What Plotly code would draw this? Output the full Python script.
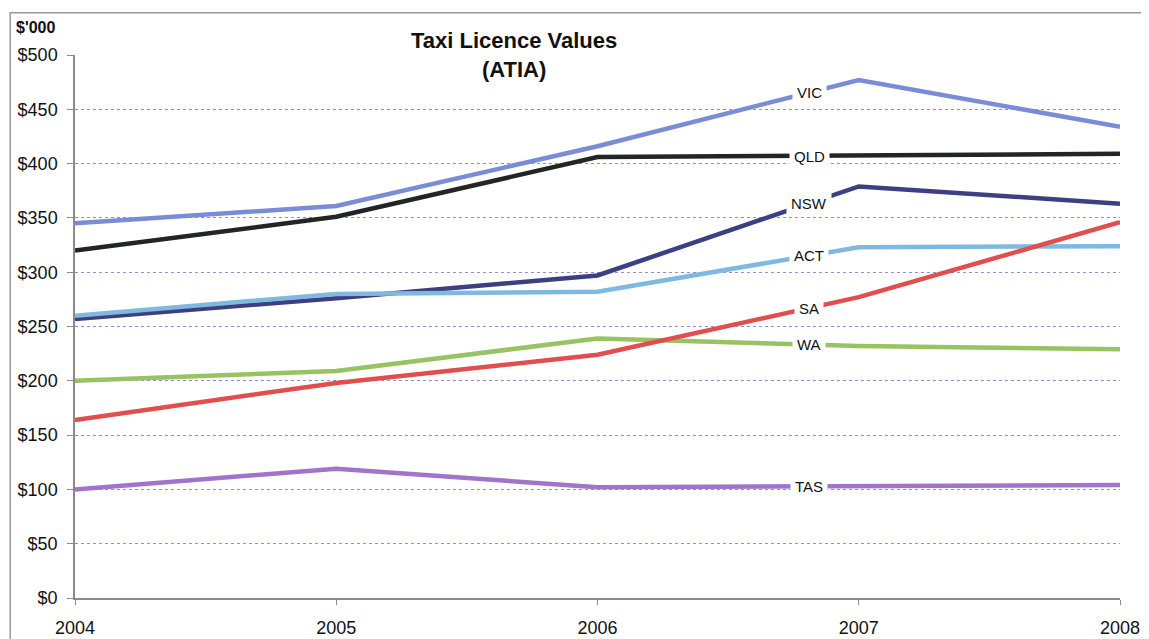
import plotly.graph_objects as go

# Taxi licence values by state ($'000)
years = [2004, 2005, 2006, 2007, 2008]
vic = [345, 361, 416, 477, 434]
qld = [320, 351, 406, 407, 409]
nsw = [257, 276, 297, 379, 363]
act = [260, 280, 282, 323, 324]
wa = [200, 209, 239, 232, 229]
sa = [164, 198, 224, 277, 346]
tas = [100, 119, 102, 103, 104]

series = [
    ("VIC", vic, "#7b8cd6"),
    ("QLD", qld, "#222426"),
    ("NSW", nsw, "#3e3f82"),
    ("ACT", act, "#80b9e0"),
    ("WA", wa, "#99c263"),
    ("SA", sa, "#e04e4e"),
    ("TAS", tas, "#a173c9"),
]

FONT = "Liberation Sans, Arial, sans-serif"
label_pos = 0.81  # labels sit between 2006 and 2007

fig = go.Figure()
for name, vals, col in series:
    fig.add_trace(go.Scatter(x=years, y=vals, mode="lines", name=name,
                             line=dict(color=col, width=4.5), showlegend=False))

# inline labels on each line (white box breaks the line)
for name, vals, col in series:
    lx = years[2] + label_pos * (years[3] - years[2])
    ly = vals[2] + label_pos * (vals[3] - vals[2])
    fig.add_annotation(x=lx, y=ly, text=name, showarrow=False,
                       font=dict(family=FONT, size=15, color="#111"),
                       bgcolor="white", borderpad=4)

fig.add_annotation(xref="paper", yref="paper", x=0.42, y=1.0,
                   text="<b>Taxi Licence Values</b><br><b>(ATIA)</b>",
                   showarrow=False, xanchor="center", yanchor="middle",
                   font=dict(family=FONT, size=22, color="#111"))
fig.add_annotation(xref="paper", yref="paper", x=-0.058, y=1.05,
                   text="<b>$'000</b>", showarrow=False, xanchor="left", yanchor="middle",
                   font=dict(family=FONT, size=16, color="#111"))

# outer chart frame
fig.add_shape(type="rect", xref="paper", yref="paper", x0=-0.062, x1=1.05, y0=-0.2, y1=1.078,
              line=dict(color="#9a9a9a", width=1.5), layer="below")

# page body adds 8px offset, so margins are shifted to keep the plot where it belongs
fig.update_layout(
    width=1149, height=639,
    margin=dict(l=67, r=37, t=47, b=49),
    paper_bgcolor="white", plot_bgcolor="white",
    font=dict(family=FONT, size=18, color="#111"),
)
fig.update_xaxes(range=[2004, 2008], tickvals=years, showgrid=False, zeroline=False,
                 showline=True, linecolor="#8a8a8a", linewidth=1.5, automargin=False,
                 ticks="outside", ticklen=5, tickcolor="#8a8a8a", ticklabelstandoff=8)
fig.update_yaxes(range=[0, 500], dtick=50, tickprefix="$", zeroline=False,
                 showgrid=True, gridcolor="#8f8fd0", griddash="dot", gridwidth=1,
                 showline=True, linecolor="#8a8a8a", linewidth=1.5, automargin=False,
                 ticks="outside", ticklen=6, tickcolor="#8a8a8a", ticklabelstandoff=6)

fig.write_html("out.html")
